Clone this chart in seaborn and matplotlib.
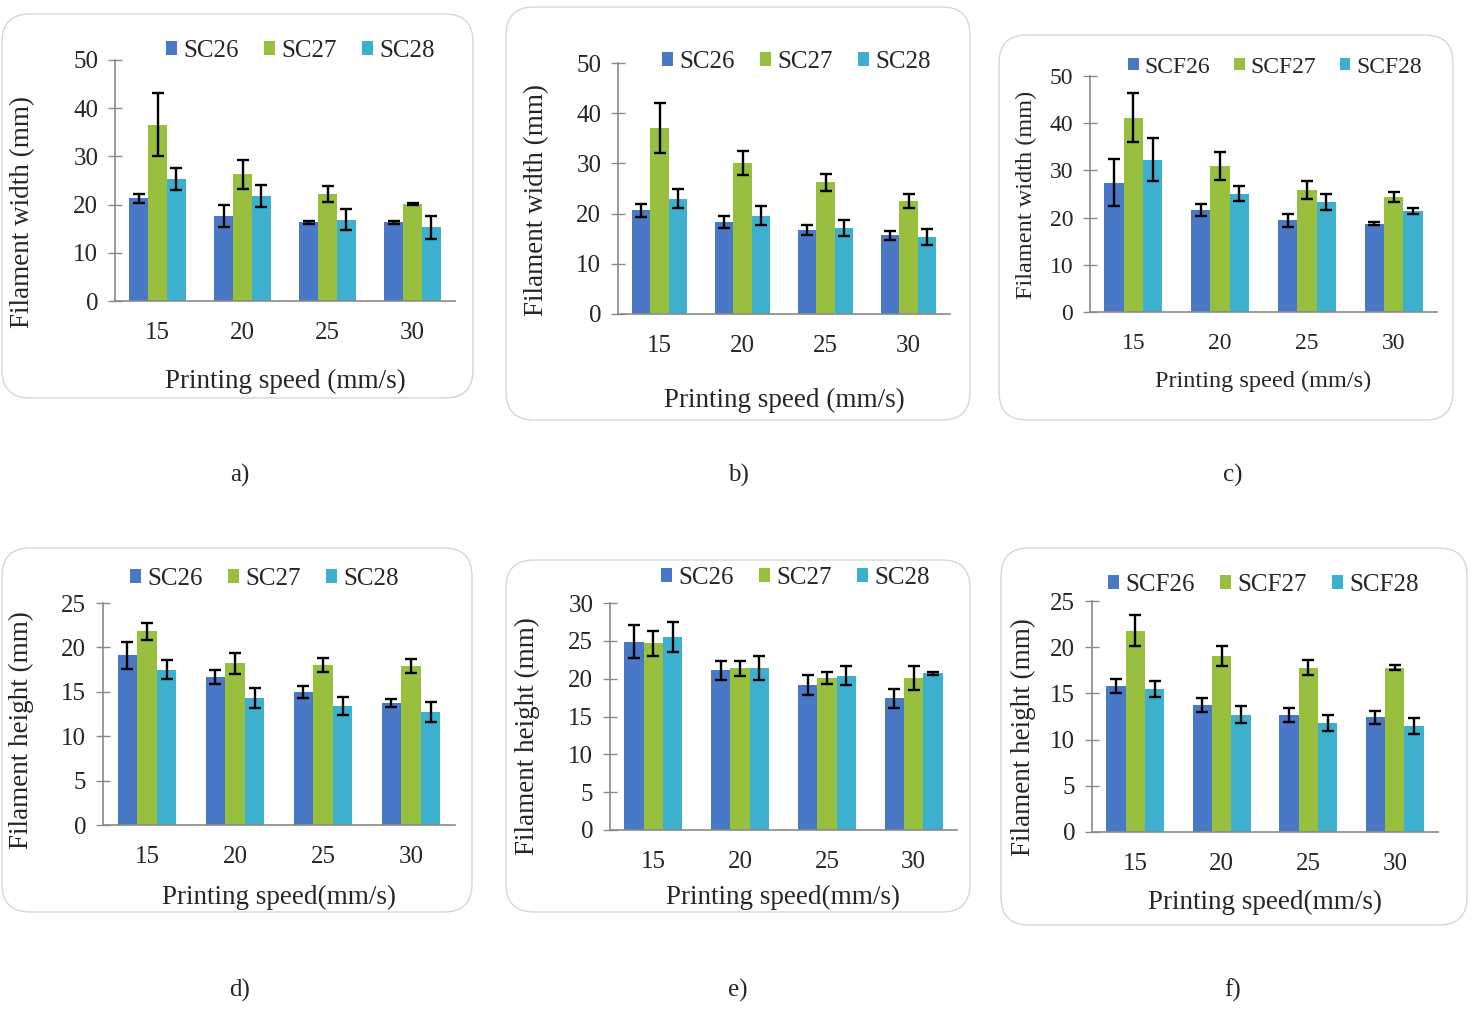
import numpy as np
import pandas as pd
import seaborn as sns
import matplotlib
matplotlib.use("Agg")
import matplotlib.pyplot as plt
from matplotlib.patches import FancyBboxPatch

# ---------------- data ----------------
speeds = ["15", "20", "25", "30"]

# a) filament width, SC series
a_sc26 = [21.3, 17.7, 16.3, 16.3]
a_sc26_err = [1.0, 2.3, 0.4, 0.3]
a_sc27 = [36.6, 26.3, 22.2, 20.2]
a_sc27_err = [6.6, 3.0, 1.7, 0.2]
a_sc28 = [25.3, 21.8, 16.9, 15.3]
a_sc28_err = [2.3, 2.3, 2.2, 2.4]

# b) filament width, SC series
b_sc26 = [20.7, 18.3, 16.8, 15.7]
b_sc26_err = [1.3, 1.2, 1.0, 0.9]
b_sc27 = [37.0, 30.0, 26.2, 22.6]
b_sc27_err = [5.0, 2.4, 1.7, 1.4]
b_sc28 = [23.0, 19.6, 17.1, 15.3]
b_sc28_err = [1.9, 1.9, 1.6, 1.6]

# c) filament width, SCF series
c_scf26 = [27.4, 21.6, 19.4, 18.7]
c_scf26_err = [5.0, 1.3, 1.3, 0.3]
c_scf27 = [41.2, 30.9, 25.8, 24.4]
c_scf27_err = [5.2, 3.0, 1.9, 1.1]
c_scf28 = [32.3, 25.1, 23.3, 21.4]
c_scf28_err = [4.5, 1.6, 1.6, 0.6]

# d) filament height, SC series
d_sc26 = [19.1, 16.65, 15.0, 13.7]
d_sc26_err = [1.55, 0.8, 0.65, 0.45]
d_sc27 = [21.8, 18.2, 18.0, 17.9]
d_sc27_err = [0.95, 1.2, 0.8, 0.75]
d_sc28 = [17.5, 14.3, 13.4, 12.7]
d_sc28_err = [1.1, 1.1, 1.0, 1.1]

# e) filament height, SC series
e_sc26 = [24.9, 21.1, 19.2, 17.4]
e_sc26_err = [2.2, 1.3, 1.3, 1.3]
e_sc27 = [24.7, 21.4, 20.1, 20.1]
e_sc27_err = [1.65, 1.0, 0.8, 1.6]
e_sc28 = [25.5, 21.4, 20.4, 20.7]
e_sc28_err = [1.95, 1.6, 1.25, 0.2]

# f) filament height, SCF series
f_scf26 = [15.8, 13.7, 12.7, 12.4]
f_scf26_err = [0.75, 0.75, 0.75, 0.72]
f_scf27 = [21.8, 19.05, 17.8, 17.8]
f_scf27_err = [1.65, 1.05, 0.83, 0.3]
f_scf28 = [15.45, 12.7, 11.8, 11.5]
f_scf28_err = [0.85, 0.9, 0.9, 0.85]

sc_names = ["SC26", "SC27", "SC28"]
scf_names = ["SCF26", "SCF27", "SCF28"]

# ---------------- style ----------------
sns.set_theme(style="white")
plt.rcParams["font.family"] = ["Liberation Serif", "DejaVu Serif"]

colors = ["#4878c6", "#98c03e", "#3eb0cf"]
W, H = 1475, 1010
fig = plt.figure(figsize=(W / 100, H / 100), dpi=100)
fig.patch.set_facecolor("white")

def px_rect(left, right, top, bottom):
    return [left / W, 1 - bottom / H, (right - left) / W, (bottom - top) / H]

def add_box(x0, y0, x1, y1):
    p = FancyBboxPatch((x0 / 100, (H - y1) / 100), (x1 - x0) / 100, (y1 - y0) / 100,
                       boxstyle="round,pad=0,rounding_size=0.28",
                       transform=fig.dpi_scale_trans, facecolor="none",
                       edgecolor="#d6d6d6", linewidth=1.0, zorder=-1)
    fig.patches.append(p)

panels = [
    dict(name="a)", rect=(115, 455, 60, 301), box=(2, 14, 473, 398),
         series=(a_sc26, a_sc27, a_sc28), errs=(a_sc26_err, a_sc27_err, a_sc28_err),
         names=sc_names, ymax=50, step=10, ylabel="Filament width (mm)",
         xlabel="Printing speed (mm/s)", leg=(300, 51), tfs=18, lfs=19.5, gfs=18,
         ylpos=(23, 212), xlp=18, lab=(240, 475)),
    dict(name="b)", rect=(618, 950, 63, 314), box=(506, 7, 970, 420),
         series=(b_sc26, b_sc27, b_sc28), errs=(b_sc26_err, b_sc27_err, b_sc28_err),
         names=sc_names, ymax=50, step=10, ylabel="Filament width (mm)",
         xlabel="Printing speed (mm/s)", leg=(796, 62), tfs=18, lfs=19.5, gfs=18,
         ylpos=(537, 200), xlp=22, lab=(738, 475)),
    dict(name="c)", rect=(1090, 1437, 76, 312), box=(999, 35, 1453, 420),
         series=(c_scf26, c_scf27, c_scf28), errs=(c_scf26_err, c_scf27_err, c_scf28_err),
         names=scf_names, ymax=50, step=10, ylabel="Filament width (mm)",
         xlabel="Printing speed (mm/s)", leg=(1275, 67), tfs=17, lfs=17.5, gfs=17,
         ylpos=(1025, 195), xlp=12, lab=(1233, 475)),
    dict(name="d)", rect=(103, 455, 603, 825), box=(2, 548, 472, 912),
         series=(d_sc26, d_sc27, d_sc28), errs=(d_sc26_err, d_sc27_err, d_sc28_err),
         names=sc_names, ymax=25, step=5, ylabel="Filament height (mm)",
         xlabel="Printing speed(mm/s)", leg=(264, 579), tfs=18, lfs=19.5, gfs=18,
         ylpos=(22, 730), xlp=12, lab=(240, 990)),
    dict(name="e)", rect=(610, 957, 603, 830), box=(506, 560, 970, 912),
         series=(e_sc26, e_sc27, e_sc28), errs=(e_sc26_err, e_sc27_err, e_sc28_err),
         names=sc_names, ymax=30, step=5, ylabel="Filament height (mm)",
         xlabel="Printing speed(mm/s)", leg=(795, 578), tfs=18, lfs=19.5, gfs=18,
         ylpos=(528, 736), xlp=9, lab=(738, 990)),
    dict(name="f)", rect=(1092, 1438, 601, 832), box=(1001, 548, 1467, 925),
         series=(f_scf26, f_scf27, f_scf28), errs=(f_scf26_err, f_scf27_err, f_scf28_err),
         names=scf_names, ymax=25, step=5, ylabel="Filament height (mm)",
         xlabel="Printing speed(mm/s)", leg=(1263, 585), tfs=18, lfs=19.5, gfs=18,
         ylpos=(1024, 737), xlp=11, lab=(1233, 990)),
]

for p in panels:
    add_box(*p["box"])
    ax = fig.add_axes(px_rect(*p["rect"]))
    ax.set_facecolor("none")
    rows = []
    for nm, vals in zip(p["names"], p["series"]):
        for s, v in zip(speeds, vals):
            rows.append({"speed": s, "value": v, "series": nm})
    df = pd.DataFrame(rows)
    sns.barplot(data=df, x="speed", y="value", hue="series", order=speeds,
                hue_order=p["names"], palette=colors, width=0.67, saturation=1,
                errorbar=None, ax=ax, linewidth=0)
    for cont, err in zip(ax.containers, p["errs"]):
        xs = [b.get_x() + b.get_width() / 2 for b in cont]
        ys = [b.get_height() for b in cont]
        ax.errorbar(xs, ys, yerr=err, fmt="none", ecolor="black",
                    elinewidth=1.7, capsize=4.5, capthick=1.7, zorder=5)
    ax.set_xlim(-0.5, 3.5)
    ax.set_ylim(0, p["ymax"])
    ax.set_yticks(np.arange(0, p["ymax"] + 0.1, p["step"]))
    ax.tick_params(axis="y", direction="inout", length=10, width=1.0,
                   color="#8a8a8a", labelsize=p["tfs"], pad=7, left=True)
    ax.tick_params(axis="x", length=0, labelsize=p["tfs"], pad=15)
    for side in ["top", "right"]:
        ax.spines[side].set_visible(False)
    for side in ["left", "bottom"]:
        ax.spines[side].set_color("#8a8a8a")
        ax.spines[side].set_linewidth(1.2)
    ax.set_xlabel(p["xlabel"], fontsize=p["lfs"], labelpad=p["xlp"])
    ax.set_ylabel(p["ylabel"], fontsize=p["lfs"])
    cx, cy = p["ylpos"]
    ax.yaxis.set_label_coords((cx + 12) / W, 1 - cy / H, transform=fig.transFigure)
    handles, labels = ax.get_legend_handles_labels()
    lx, ly = p["leg"]
    ax.legend(handles, labels, loc="center", bbox_to_anchor=(lx / W, 1 - ly / H),
              bbox_transform=fig.transFigure, ncol=3, frameon=False,
              fontsize=p["gfs"], handlelength=0.45, handleheight=0.45,
              handletextpad=0.25, columnspacing=1.0, borderaxespad=0)
    fig.text(p["lab"][0] / W, 1 - p["lab"][1] / H, p["name"], ha="center",
             va="center", fontsize=18)

fig.savefig("out.png", dpi=100, facecolor="white")
